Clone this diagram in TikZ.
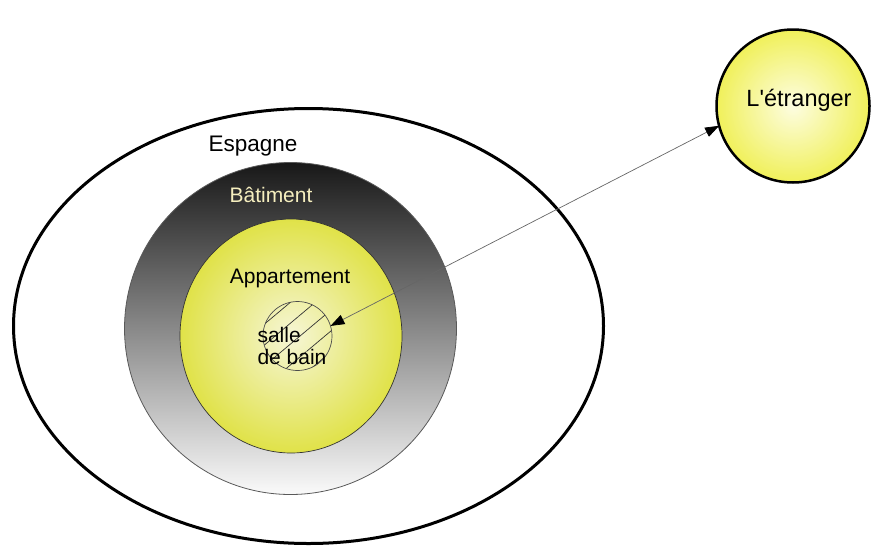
\documentclass[tikz,border=0pt]{standalone}
\usepackage{fontspec}
\setmainfont{Liberation Sans}
\usetikzlibrary{arrows.meta,patterns.meta,shapes.geometric}
\definecolor{batdark}{RGB}{24,24,24}
\definecolor{batmid}{RGB}{112,112,112}
\definecolor{batlight}{RGB}{250,250,250}
\definecolor{yelout}{RGB}{224,226,72}
\definecolor{yelin}{RGB}{246,246,214}
\definecolor{etrout}{RGB}{240,240,90}
\definecolor{etrin}{RGB}{253,253,225}
\definecolor{cream}{RGB}{245,238,190}
\begin{document}
\begin{tikzpicture}[x=1pt,y=-1pt,
  txt/.style={font=\fontsize{21}{22.5}\selectfont, inner sep=0pt},
  region/.style={inner sep=0pt, outer sep=0pt}]
\useasboundingbox (0,0) rectangle (874,546);
% Espagne
\node[region, ellipse, draw=black, line width=3pt, minimum width=590pt, minimum height=435pt] (esp) at (308.5,326) {};
% Batiment
\node[region, circle, draw=black!65, line width=0.8pt, top color=batdark, middle color=batmid, bottom color=batlight, minimum size=332pt] (bat) at (290.5,328.5) {};
% Appartement
\node[region, ellipse, draw=black!80, line width=0.7pt, inner color=yelin, outer color=yelout, minimum width=222pt, minimum height=234pt] (app) at (291,336) {};
% salle de bain
\node[region, circle, draw=black!70, line width=0.7pt, pattern={Lines[angle=40,distance=16pt,line width=0.7pt]}, pattern color=black!80, minimum size=69pt] (sdb) at (297.5,336) {};
% L'etranger
\node[region, circle, draw=black, line width=2.5pt, inner color=etrin, outer color=etrout, minimum size=153pt] (etr) at (793,106) {};
% labels
\node[txt, font=\fontsize{22.5}{24}\selectfont] (lesp) at (253,146) {Espagne};
\node[txt, text=cream] (lbat) at (271,195) {Bâtiment};
\node[txt] (lapp) at (290,278) {Appartement};
\node[txt, align=left] (lsdb) at (292,346) {salle\\de bain};
\node[txt, font=\fontsize{23.5}{26}\selectfont] (letr) at (799,100) {L\textquotesingle étranger};
% arrow
\draw[black!60, line width=0.7pt, {Triangle[length=14pt,width=10pt,color=black]}-{Triangle[length=14pt,width=10pt,color=black]}] (sdb.17) -- (etr.195);
\end{tikzpicture}
\end{document}
